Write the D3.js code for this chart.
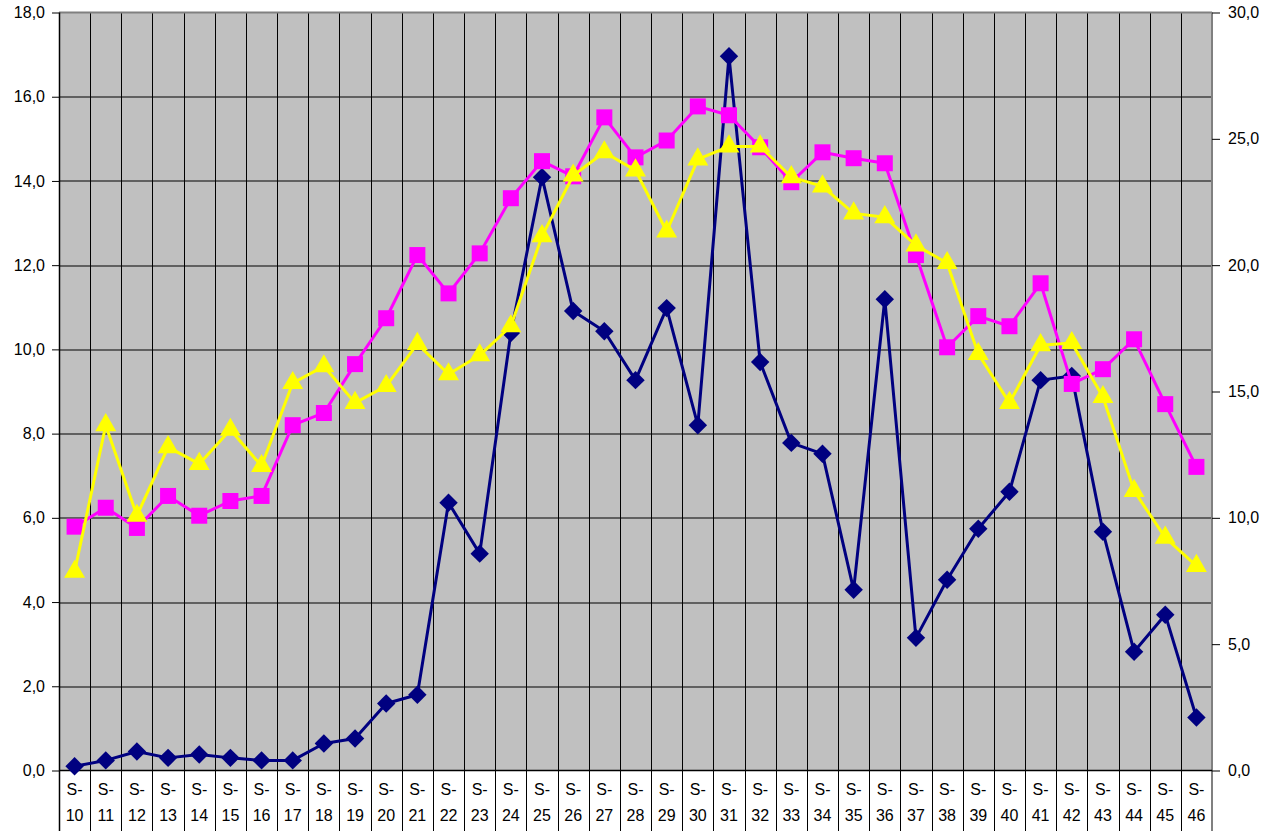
<!DOCTYPE html>
<html>
<head>
<meta charset="utf-8">
<script src="https://cdn.jsdelivr.net/npm/d3@7"></script>
<style>
    body { margin: 0; background: #fff; }
    text { font-family: "Liberation Sans", Arial, sans-serif; font-size: 16px; fill: #000; }
</style>
</head>
<body>
<div id="chart"></div>
<script>
// week numbers, labels are "S-" + number
var weeks = d3.range(10, 47);
var categories = weeks.map(w => "S-" + w);

var leftTicks = [0, 2, 4, 6, 8, 10, 12, 14, 16, 18];
var rightTicks = [0, 5, 10, 15, 20, 25, 30];

// series values (left axis units)
var navyValues = [0.1, 0.24, 0.45, 0.3, 0.38, 0.3, 0.24, 0.24, 0.64, 0.76,
    1.59, 1.8, 6.36, 5.15, 10.39, 14.09, 10.91, 10.43, 9.27, 10.98,
    8.2, 16.96, 9.7, 7.78, 7.52, 4.29, 11.19, 3.15, 4.53, 5.74,
    6.62, 9.27, 9.37, 5.67, 2.82, 3.7, 1.26];

var magentaValues = [5.79, 6.24, 5.76, 6.52, 6.05, 6.4, 6.52, 8.2, 8.49, 9.65,
    10.74, 12.24, 11.33, 12.28, 13.59, 14.47, 14.11, 15.51, 14.56, 14.96,
    15.77, 15.56, 14.8, 13.97, 14.68, 14.54, 14.42, 12.24, 10.05, 10.79,
    10.55, 11.57, 9.18, 9.53, 10.24, 8.7, 7.21];

var yellowValues = [4.72, 8.2, 6.05, 7.68, 7.28, 8.09, 7.23, 9.2, 9.6, 8.73,
    9.13, 10.13, 9.41, 9.86, 10.55, 12.69, 14.13, 14.68, 14.25, 12.8,
    14.51, 14.82, 14.82, 14.09, 13.87, 13.23, 13.14, 12.47, 12.05, 9.89,
    8.73, 10.1, 10.15, 8.87, 6.64, 5.53, 4.86];

var svgWidth = 1265;
var svgHeight = 831;

var margin = { top: 12.5, right: 53, bottom: 60, left: 59 };
var width = svgWidth - margin.left - margin.right;
var height = svgHeight - margin.top - margin.bottom - 0.5;

var svg = d3.select("#chart")
    .append("svg")
    .attr("width", svgWidth)
    .attr("height", svgHeight);

var chartGroup = svg.append("g")
    .attr("transform", `translate(${margin.left}, ${margin.top})`);

var xBand = d3.scaleBand()
    .domain(categories)
    .range([0, width])
    .padding(0);

var yLeft = d3.scaleLinear().domain([0, 18]).range([height, 0]);
var yRight = d3.scaleLinear().domain([0, 30]).range([height, 0]);

// plot background
chartGroup.append("rect")
    .attr("x", 0)
    .attr("y", 0)
    .attr("width", width)
    .attr("height", height)
    .attr("fill", "#c0c0c0");

// horizontal gridlines
chartGroup.append("g")
    .selectAll("line")
    .data(leftTicks.slice(1, -1))
    .enter().append("line")
    .attr("x1", 0)
    .attr("x2", width)
    .attr("y1", d => Math.round(yLeft(d)) + 0.5)
    .attr("y2", d => Math.round(yLeft(d)) + 0.5)
    .attr("stroke", "#000")
    .attr("stroke-width", 1);

// vertical gridlines + separators under the axis
var bounds = categories.slice(1).map(c => xBand(c));
chartGroup.append("g")
    .selectAll("line")
    .data(bounds)
    .enter().append("line")
    .attr("x1", d => Math.round(d) + 0.5)
    .attr("x2", d => Math.round(d) + 0.5)
    .attr("y1", 0)
    .attr("y2", svgHeight)
    .attr("stroke", "#000")
    .attr("stroke-width", 1);

// top and right border of the plot
chartGroup.append("line")
    .attr("x1", 0).attr("x2", width)
    .attr("y1", 0).attr("y2", 0)
    .attr("stroke", "#808080")
    .attr("stroke-width", 2);

chartGroup.append("line")
    .attr("x1", width).attr("x2", width)
    .attr("y1", 0).attr("y2", svgHeight)
    .attr("stroke", "#808080")
    .attr("stroke-width", 2);

// left axis
var leftAxis = d3.axisLeft(yLeft)
    .tickValues(leftTicks)
    .tickSize(7)
    .tickPadding(7)
    .tickFormat(d => d3.format(".1f")(d).replace(".", ","));

var yAxisLeft = chartGroup.append("g").call(leftAxis);
yAxisLeft.select(".domain").remove();
yAxisLeft.selectAll("text").style("font-size", "16px").style("font-family", "Liberation Sans, Arial, sans-serif");
yAxisLeft.selectAll("line").attr("stroke", "#000");

chartGroup.append("line")
    .attr("x1", 0.5).attr("x2", 0.5)
    .attr("y1", 0).attr("y2", svgHeight)
    .attr("stroke", "#000")
    .attr("stroke-width", 1.5);

// right axis
var rightAxis = d3.axisRight(yRight)
    .tickValues(rightTicks)
    .tickSize(8)
    .tickPadding(8)
    .tickFormat(d => d3.format(".1f")(d).replace(".", ","));

var yAxisRight = chartGroup.append("g")
    .attr("transform", `translate(${width}, 0)`)
    .call(rightAxis);
yAxisRight.select(".domain").remove();
yAxisRight.selectAll("text").style("font-size", "16px").style("font-family", "Liberation Sans, Arial, sans-serif");
yAxisRight.selectAll("line").attr("stroke", "#000");

// x axis baseline
chartGroup.append("line")
    .attr("x1", 0).attr("x2", width)
    .attr("y1", height).attr("y2", height)
    .attr("stroke", "#000")
    .attr("stroke-width", 1.5);

// x labels, two lines each
var xLabels = chartGroup.append("g")
    .selectAll("text")
    .data(categories)
    .enter().append("text")
    .attr("x", d => xBand(d) + xBand.bandwidth() / 2)
    .attr("y", height + 24)
    .attr("text-anchor", "middle");

xLabels.append("tspan")
    .attr("x", d => xBand(d) + xBand.bandwidth() / 2)
    .text("S-");
xLabels.append("tspan")
    .attr("x", d => xBand(d) + xBand.bandwidth() / 2)
    .attr("dy", 26)
    .text(d => d.slice(2));

function cx(i) {
    return xBand(categories[i]) + xBand.bandwidth() / 2;
}

function drawSeries(values, color, symbol, size, rotate) {
    var line = d3.line()
        .x((d, i) => cx(i))
        .y(d => yLeft(d));

    chartGroup.append("path")
        .datum(values)
        .attr("d", line)
        .attr("fill", "none")
        .attr("stroke", color)
        .attr("stroke-width", 3)
        .attr("stroke-linejoin", "round");

    chartGroup.append("g")
        .selectAll("path")
        .data(values)
        .enter().append("path")
        .attr("d", d3.symbol().type(symbol).size(size))
        .attr("transform", (d, i) => `translate(${cx(i)}, ${yLeft(d)}) rotate(${rotate})`)
        .attr("fill", color);
}

drawSeries(navyValues, "#000080", d3.symbolSquare, 170, 45);
drawSeries(magentaValues, "#ff00ff", d3.symbolSquare, 256, 0);
drawSeries(yellowValues, "#ffff00", d3.symbolTriangle, 190, 0);
</script>
</body>
</html>
